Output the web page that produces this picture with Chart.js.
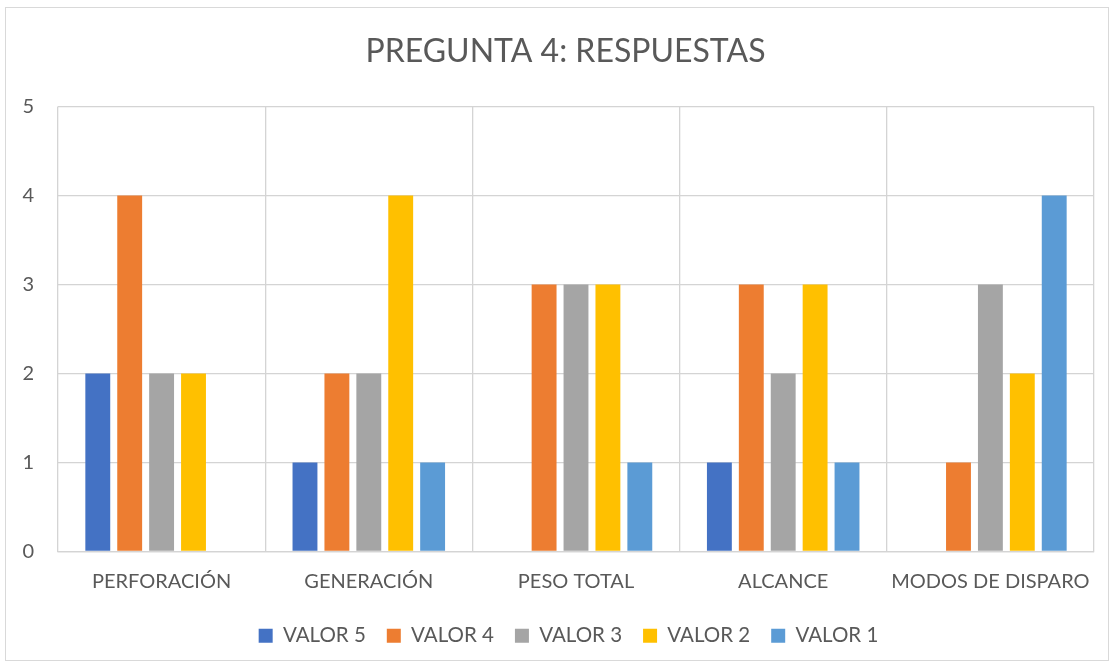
<!DOCTYPE html>
<html>
<head>
<meta charset="utf-8">
<script src="https://cdn.jsdelivr.net/npm/chart.js@4.4.0/dist/chart.umd.min.js"></script>
<style>
html,body{margin:0;padding:0;background:#fff;}
#wrap{position:relative;width:1115px;height:668px;}
#frame{position:absolute;left:5px;top:7px;width:1104px;height:654px;border:1px solid #d9d9d9;box-sizing:border-box;pointer-events:none;}
canvas{position:absolute;left:0;top:0;}
</style>
</head>
<body>
<div id="wrap">
<canvas id="c" width="1115" height="668"></canvas>
<div id="frame"></div>
</div>
<script>
const categories = ["PERFORACIÓN", "GENERACIÓN", "PESO TOTAL", "ALCANCE", "MODOS DE DISPARO"];
const seriesNames = ["VALOR 5", "VALOR 4", "VALOR 3", "VALOR 2", "VALOR 1"];
const valor5 = [2, 1, 0, 1, 0];
const valor4 = [4, 2, 3, 3, 1];
const valor3 = [2, 2, 3, 2, 3];
const valor2 = [2, 4, 3, 3, 2];
const valor1 = [0, 1, 1, 1, 4];
const colors = ["#4472C4", "#ED7D31", "#A5A5A5", "#FFC000", "#5B9BD5"];
const seriesValues = [valor5, valor4, valor3, valor2, valor1];

const FONT = "Lato, 'Open Sans', sans-serif";
const TXT = "#595959";

const shiftPlugin = {
  id: 'shiftBlocks',
  beforeDraw(chart) {
    const L = chart.legend;
    if (L && !L._shifted) {
      L.left += 19; L.right += 19;
      L.top -= 7; L.bottom -= 7;
      L.adjustHitBoxes();
      L._shifted = true;
    }
    const T = chart.titleBlock;
    if (T && !T._shifted) {
      T.left += 16; T.right += 16;
      T._shifted = true;
    }
  }
};

new Chart(document.getElementById('c'), {
  type: 'bar',
  data: {
    labels: categories,
    datasets: seriesNames.map((n, i) => ({
      label: n,
      data: seriesValues[i],
      backgroundColor: colors[i],
      borderWidth: 0,
      categoryPercentage: 0.77,
      barPercentage: 0.78
    }))
  },
  plugins: [shiftPlugin],
  options: {
    responsive: false,
    animation: false,
    layout: { padding: { top: 27, right: 21, bottom: 5, left: 5 } },
    plugins: {
      title: {
        display: true,
        text: "PREGUNTA 4: RESPUESTAS",
        color: TXT,
        font: { family: FONT, size: 32, weight: 'normal' },
        padding: { top: 5, bottom: 36 }
      },
      legend: {
        position: 'bottom',
        labels: {
          color: TXT,
          font: { family: FONT, size: 20.5 },
          boxWidth: 14,
          boxHeight: 14,
          padding: 21
        }
      },
      tooltip: { enabled: false }
    },
    scales: {
      x: {
        grid: { color: "#d4d4d4", lineWidth: 1.3, drawTicks: false, offset: true },
        border: { color: "#d4d4d4", width: 1.3 },
        ticks: { color: TXT, font: { family: FONT, size: 20 }, padding: 18 }
      },
      y: {
        min: 0, max: 5,
        grid: { color: "#d4d4d4", lineWidth: 1.3, drawTicks: false },
        border: { display: false },
        ticks: { stepSize: 1, color: TXT, font: { family: FONT, size: 20 }, padding: 24 },
        afterFit: (s) => { s.width = 53; }
      }
    }
  }
});
</script>
</body>
</html>
